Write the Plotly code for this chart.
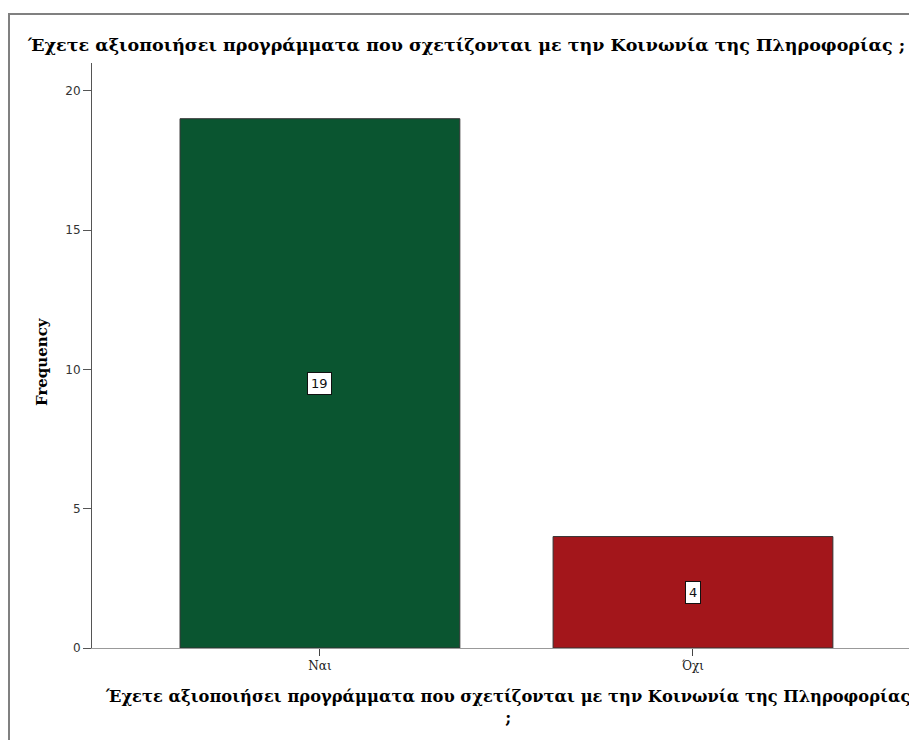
import plotly.graph_objects as go

categories = ["Ναι", "Όχι"]
frequencies = [19, 4]
bar_colors = ["#0a5530", "#a3161b"]
y_ticks = [0, 5, 10, 15, 20]
title_text = "Έχετε αξιοποιήσει προγράμματα που σχετίζονται με την Κοινωνία της Πληροφορίας ;"
x_title_text = "Έχετε αξιοποιήσει προγράμματα που σχετίζονται με την Κοινωνία της Πληροφορίας<br>;"
y_title_text = "Frequency"

OFF = 8  # browser body margin
W, H = 917 - OFF, 740 - OFF
L, R, T, B = 92 - OFF, 0, 63 - OFF, 92
pw, ph = W - L - R, H - T - B

def px(xp):
    return (xp - OFF - L) / pw

def py(yp):
    return (H - B - (yp - OFF)) / ph

xs = list(range(len(categories)))

fig = go.Figure()
fig.add_trace(go.Bar(
    x=xs, y=frequencies, width=0.75,
    marker=dict(color=bar_colors, line=dict(color="#333333", width=1)),
    hoverinfo="skip",
))

for xi, v in zip(xs, frequencies):
    fig.add_annotation(
        x=xi, y=v / 2, xref="x", yref="y", text=str(v), showarrow=False,
        font=dict(family="DejaVu Sans", size=13, color="#111111"),
        bgcolor="white", bordercolor="#111111", borderwidth=1, borderpad=3,
    )

serif = "DejaVu Serif"
fig.add_annotation(
    x=px(466), y=py(45), xref="paper", yref="paper", text="<b>" + title_text + "</b>",
    showarrow=False, xanchor="center", yanchor="middle",
    font=dict(family=serif, size=17.5, color="#000000"),
)
fig.add_annotation(
    x=px(507), y=py(707), xref="paper", yref="paper", text="<b>" + x_title_text.replace("<br>", "</b><br><b>") + "</b>",
    showarrow=False, xanchor="center", yanchor="middle",
    font=dict(family=serif, size=16.3, color="#000000"),
)
fig.add_annotation(
    x=px(42), y=py(362), xref="paper", yref="paper", text="<b>" + y_title_text + "</b>",
    showarrow=False, xanchor="center", yanchor="middle", textangle=-90,
    font=dict(family=serif, size=15, color="#000000"),
)

fig.add_shape(
    type="rect", xref="paper", yref="paper",
    x0=px(9), x1=px(940), y0=py(780), y1=py(14),
    line=dict(color="#808080", width=2), fillcolor="rgba(0,0,0,0)", layer="below",
)

fig.update_layout(
    width=W, height=H,
    margin=dict(l=L, r=R, t=T, b=B),
    paper_bgcolor="white", plot_bgcolor="white",
    showlegend=False,
    xaxis=dict(
        range=[-0.611, 1.6005], tickvals=xs, ticktext=categories,
        showline=True, linecolor="#999999", linewidth=1,
        ticks="outside", ticklen=7, tickcolor="#444444", tickwidth=1,
        showgrid=False, zeroline=False,
        tickfont=dict(family=serif, size=12, color="#222222"),
    ),
    yaxis=dict(
        range=[0, 21], tickvals=y_ticks,
        showline=True, linecolor="#555555", linewidth=1,
        ticks="outside", ticklen=8, tickcolor="#555555", tickwidth=1,
        showgrid=False, zeroline=False,
        tickfont=dict(family="DejaVu Sans", size=12, color="#333333"),
    ),
)

fig.write_html("out.html")
